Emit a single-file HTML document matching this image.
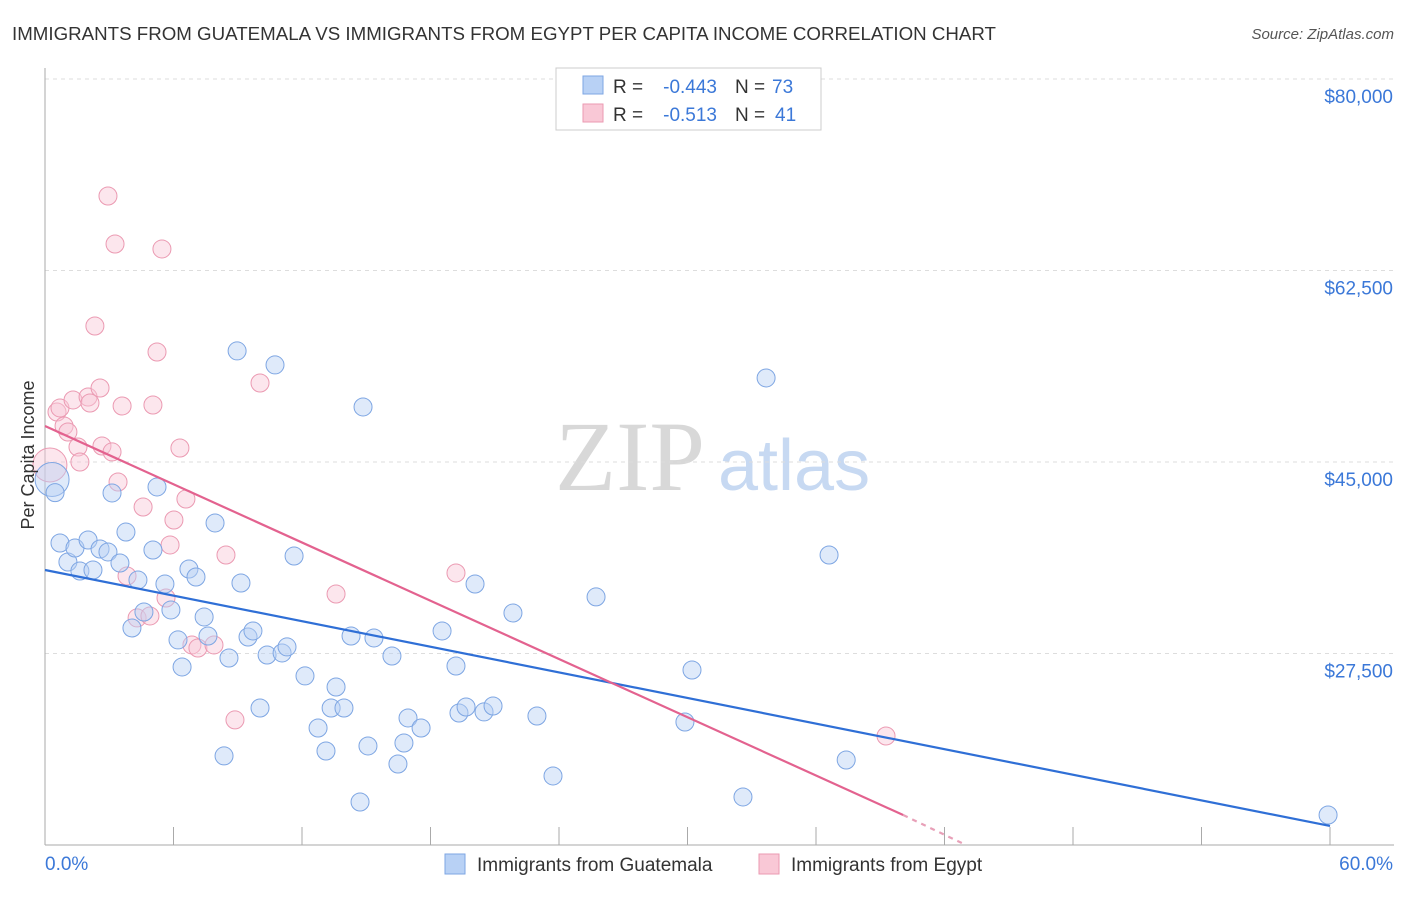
<!DOCTYPE html>
<html><head><meta charset="utf-8"><style>
body{margin:0;background:#fff;font-family:"Liberation Sans",sans-serif;}
svg text{font-family:"Liberation Sans",sans-serif;}
</style></head><body>
<svg id="chart" width="1406" height="892" xmlns="http://www.w3.org/2000/svg">
<text x="12" y="40" font-size="18" fill="#333" textLength="984" lengthAdjust="spacingAndGlyphs">IMMIGRANTS FROM GUATEMALA VS IMMIGRANTS FROM EGYPT PER CAPITA INCOME CORRELATION CHART</text>
<text x="1394" y="39" font-size="15" fill="#555" font-style="italic" text-anchor="end">Source: ZipAtlas.com</text>
<g>
<text x="555" y="490" font-size="100" fill="#d8d8d8" font-family="Liberation Serif" style="font-family:'Liberation Serif',serif">ZIP</text>
<text x="718" y="490" font-size="72" fill="#c7d9f2">atlas</text>
</g>
<g id="grid"></g>
<g id="axes"></g>
<g id="pts"></g>
<g id="lines"></g>
<text transform="translate(34,455) rotate(-90)" font-size="18" fill="#333" text-anchor="middle">Per Capita Income</text>
<g>
<rect x="556" y="68" width="265" height="62" fill="#fff" stroke="#ccc"/>
<rect x="583" y="76" width="20" height="18" fill="#b8d1f5" stroke="#7ea6e3"/>
<rect x="583" y="104" width="20" height="18" fill="#f9c8d6" stroke="#eb9ab2"/>
<text x="613" y="93" font-size="19" fill="#333">R =</text>
<text x="717" y="93" font-size="19" fill="#3b78d8" text-anchor="end">-0.443</text>
<text x="735" y="93" font-size="19" fill="#333">N =</text>
<text x="772" y="93" font-size="19" fill="#3b78d8">73</text>
<text x="613" y="121" font-size="19" fill="#333">R =</text>
<text x="717" y="121" font-size="19" fill="#3b78d8" text-anchor="end">-0.513</text>
<text x="735" y="121" font-size="19" fill="#333">N =</text>
<text x="775" y="121" font-size="19" fill="#3b78d8">41</text>
</g>
<g>
<rect x="445" y="854" width="20" height="20" fill="#b8d1f5" stroke="#7ea6e3"/>
<text x="477" y="871" font-size="19" fill="#333">Immigrants from Guatemala</text>
<rect x="759" y="854" width="20" height="20" fill="#f9c8d6" stroke="#eb9ab2"/>
<text x="791" y="871" font-size="19" fill="#333">Immigrants from Egypt</text>
</g>
</svg>
<script>
const yTicks=[27500,45000,62500,80000];
const yTickLabels=["$27,500","$45,000","$62,500","$80,000"];
const xTickLabels=["0.0%","60.0%"];
const blueX=[0.33,0.47,0.70,1.07,1.40,1.63,2.01,2.24,2.57,2.94,3.13,3.50,3.78,4.06,4.34,4.62,5.04,5.23,5.60,5.88,6.21,6.40,6.72,7.05,7.43,7.61,7.94,8.36,8.59,8.97,9.15,9.48,9.71,10.04,10.37,10.74,11.07,11.30,11.63,12.14,12.75,13.12,13.59,13.36,13.96,14.29,14.71,14.85,15.08,15.36,16.20,16.48,16.76,16.95,17.56,18.54,19.19,19.33,19.66,20.08,20.50,20.92,21.85,22.97,23.72,25.73,30.21,29.88,32.59,33.67,36.61,37.41,59.91];
const blueY=[43400,42200,37600,35860,37140,35040,37870,35130,37050,36780,42170,35770,38600,29830,34220,31290,36960,42720,33850,31480,28740,26270,35220,34490,30840,29100,39430,18140,27090,55150,33940,29010,29560,22520,27360,53870,27550,28100,36410,25450,20690,18590,24440,22520,22520,29100,13930,50030,19050,28920,27270,17400,19320,21610,20690,29560,26360,22060,22610,33850,22160,22700,31200,21790,16310,32670,25990,21240,14390,52680,36500,17770,12740];
const pinkX=[0.23,0.56,0.70,0.89,1.07,1.31,1.54,1.63,2.01,2.10,2.33,2.57,2.66,2.94,3.13,3.27,3.41,3.60,3.83,4.30,4.58,4.90,5.04,5.23,5.46,5.65,5.84,6.02,6.30,6.58,6.86,7.14,7.89,8.45,8.87,10.04,13.59,19.19,39.27];
const pinkY=[44730,49570,49940,48290,47740,50670,46370,45000,50940,50390,57430,51760,46460,69310,45920,64920,43170,50120,34580,30750,40890,30930,50210,55050,64470,32570,37420,39700,46280,41620,28280,28000,28280,36500,21430,52220,32940,34860,19960];
const blueLine=[[0,35130],[60,11740]];
const pinkLine=[[0,48290],[40.07,12740]];
const pinkDash=[[40.07,12740],[43.0,10000]];
const NS="http://www.w3.org/2000/svg";
const X0=45,X1=1330,Y0=845,Ytop=79;
const xs=v=>X0+v/60*(X1-X0);
const ys=v=>Y0-(v-10000)/70000*(Y0-Ytop);
function mk(t,a,p){const e=document.createElementNS(NS,t);for(const k in a)e.setAttribute(k,a[k]);p.appendChild(e);return e;}
const grid=document.getElementById('grid'),axes=document.getElementById('axes');
yTicks.forEach((t,i)=>{
 const l=mk('line',{x1:X0,x2:1394,y1:ys(t),y2:ys(t),stroke:'#ddd','stroke-dasharray':'4,4'},grid);
 
 
 const tx=mk('text',{x:1393,y:ys(t)+24,'font-size':19,fill:'#3b78d8','text-anchor':'end'},axes);
 tx.textContent=yTickLabels[i];
 
 
});
const ax=mk('line',{x1:X0,x2:X0,y1:68,y2:Y0,stroke:'#aaa'},axes);


const bx=mk('line',{x1:X0,x2:1394,y1:Y0,y2:Y0,stroke:'#aaa'},axes);


for(let i=0;i<=10;i++){
 const tk=mk('line',{x1:xs(i*6),x2:xs(i*6),y1:Y0,y2:Y0-18,stroke:'#aaa'},axes);
 
 
}
[[0,45,'start'],[60,1393,'end']].forEach((d,i)=>{
 const t=mk('text',{x:d[1],y:870,'font-size':19,fill:'#3b78d8','text-anchor':d[2]},axes);
 t.textContent=xTickLabels[i];
 
 
});
const pts=document.getElementById('pts');
function dots(X,Y,fill,stroke,name){
 X.forEach((x,i)=>{
  const r=i===0?17:9;
  const c=mk('circle',{cx:xs(x),cy:ys(Y[i]),r:r,fill:fill,'fill-opacity':0.45,stroke:stroke,'stroke-width':1},pts);
  
  
 });
}
dots(pinkX,pinkY,'#f9c8d6','#eb9ab2','pink-point');
dots(blueX,blueY,'#b8d1f5','#7ea6e3','blue-point');
const lines=document.getElementById('lines');
function ln(d,c,name,dash){
 const l=mk('line',{x1:xs(d[0][0]),y1:ys(d[0][1]),x2:xs(d[1][0]),y2:ys(d[1][1]),stroke:c,'stroke-width':2.2},lines);
 if(dash)l.setAttribute('stroke-dasharray','5,5');
 
 
}
ln(blueLine,'#2f6fd6','guatemala-trend-line');
ln(pinkLine,'#e3628f','egypt-trend-line');
ln(pinkDash,'#e8a0b8','egypt-trend-extension',true);
</script>
</body></html>
